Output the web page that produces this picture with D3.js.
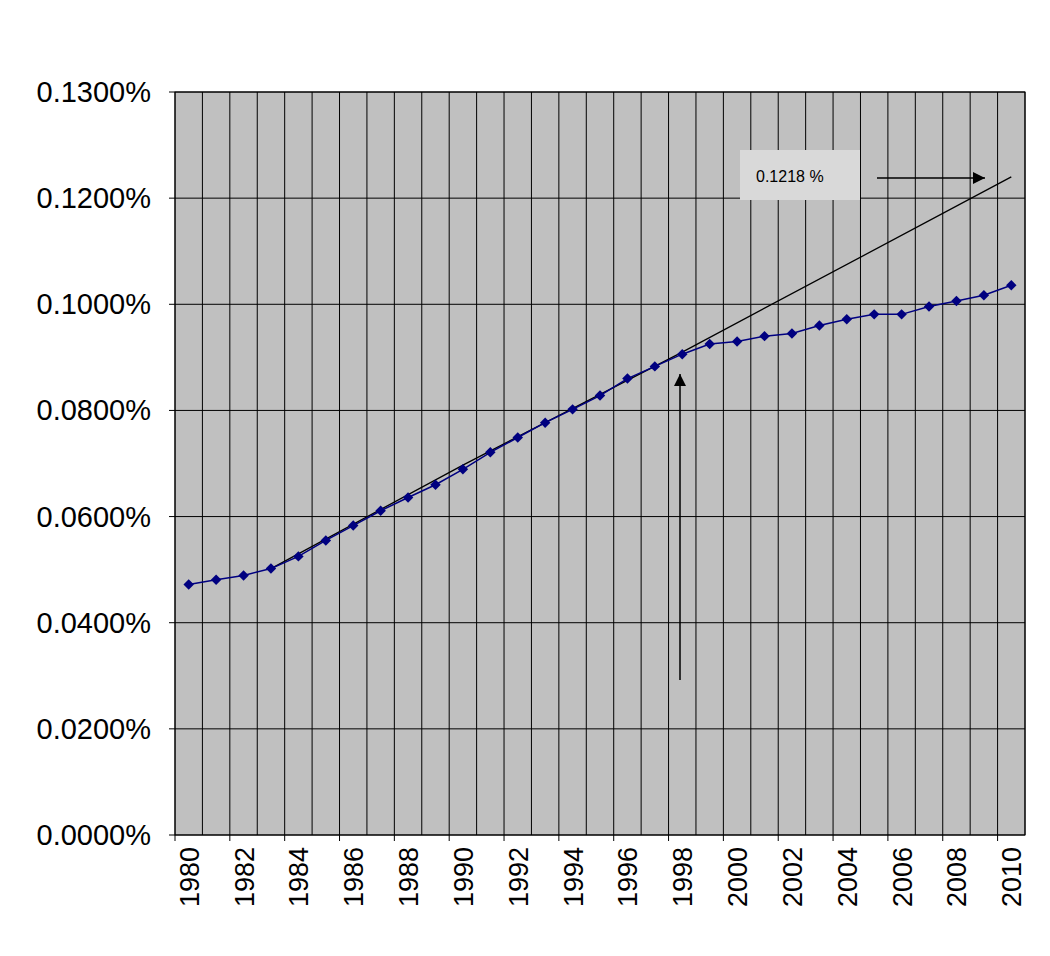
<!DOCTYPE html><html><head><meta charset="utf-8">
<script src="https://cdn.jsdelivr.net/npm/d3@7"></script>
<style>body{margin:0;background:#fff}</style></head><body>
<svg id="c" width="1050" height="956"></svg>
<script>
const years=d3.range(1980,2011);
const values=[0.0472,0.0481,0.0489,0.0502,0.0525,0.0555,0.0583,0.0611,0.0636,0.0660,0.0689,0.0721,0.0749,0.0777,0.0802,0.0828,0.0860,0.0883,0.0906,0.0925,0.0930,0.0940,0.0945,0.0960,0.0972,0.0981,0.0981,0.0996,0.1006,0.1017,0.1036];
const trendYears=[1983,1990,1998,2010];
const trendValues=[0.0502,0.0697,0.0910,0.1240];
const yTickValues=[0,0.02,0.04,0.06,0.08,0.10,0.12,0.14];
const yTickLabels=["0.0000%","0.0200%","0.0400%","0.0600%","0.0800%","0.1000%","0.1200%","0.1300%"];
const xLabelYears=years.filter(y=>y%2===0);

const svg=d3.select("#c");
const L=175,R=1025,T=92,B=835;
const x=d3.scaleBand().domain(years).range([L,R]);
const xc=d=>x(d)+x.bandwidth()/2;
const y=d3.scaleLinear().domain([0,0.14]).range([B,T]);
svg.append("rect").attr("x",L).attr("y",T).attr("width",R-L).attr("height",B-T).attr("fill","#c0c0c0");
years.concat([2011]).forEach(yr=>{const px=yr===2011?R:x(yr);
 svg.append("line").attr("x1",px).attr("x2",px).attr("y1",T).attr("y2",B).attr("stroke","#000").attr("stroke-width",1);});
yTickValues.forEach(v=>svg.append("line").attr("x1",L-6).attr("x2",R).attr("y1",y(v)).attr("y2",y(v)).attr("stroke","#000"));
svg.append("rect").attr("x",L).attr("y",T).attr("width",R-L).attr("height",B-T).attr("fill","none").attr("stroke","#000");
yTickValues.forEach((v,i)=>svg.append("text").attr("x",L-24).attr("y",y(v)+10).attr("text-anchor","end")
 .attr("font-family","Liberation Sans, Arial").attr("font-size",29).text(yTickLabels[i]));
xLabelYears.forEach(yr=>{svg.append("line").attr("x1",x(yr)).attr("x2",x(yr)).attr("y1",B).attr("y2",B+6).attr("stroke","#000");
 svg.append("text").attr("transform",`translate(${xc(yr)+10},${B+12}) rotate(-90)`).attr("text-anchor","end")
 .attr("font-family","Liberation Sans, Arial").attr("font-size",27).text(yr);});
svg.append("path").datum(trendYears.map((t,i)=>[t,trendValues[i]])).attr("fill","none").attr("stroke","#000").attr("stroke-width",1.3)
 .attr("d",d3.line().x(d=>xc(d[0])).y(d=>y(d[1])));
svg.append("path").datum(years.map((t,i)=>[t,values[i]])).attr("fill","none").attr("stroke","#000080").attr("stroke-width",1.5)
 .attr("d",d3.line().x(d=>xc(d[0])).y(d=>y(d[1])));
svg.selectAll(".m").data(years).enter().append("path").attr("fill","#000080")
 .attr("transform",(d,i)=>`translate(${xc(d)},${y(values[i])})`).attr("d",d3.symbol(d3.symbolDiamond2,70));
const defs=svg.append("defs");
defs.append("marker").attr("id","ah").attr("viewBox","0 0 10 10").attr("refX",10).attr("refY",5).attr("markerWidth",12).attr("markerHeight",12).attr("markerUnits","userSpaceOnUse").attr("orient","auto")
 .append("path").attr("d","M0,0L10,5L0,10z").attr("fill","#000");
svg.append("rect").attr("x",740).attr("y",150).attr("width",120).attr("height",50).attr("fill","#d9d9d9");
svg.append("text").attr("x",756).attr("y",182).attr("font-family","Liberation Sans, Arial").attr("font-size",16).text("0.1218 %");
svg.append("line").attr("x1",877).attr("x2",985).attr("y1",178).attr("y2",178).attr("stroke","#000").attr("stroke-width",1.5).attr("marker-end","url(#ah)");
svg.append("line").attr("x1",680).attr("x2",680).attr("y1",680).attr("y2",374).attr("stroke","#000").attr("stroke-width",1.5).attr("marker-end","url(#ah)");
</script></body></html>
